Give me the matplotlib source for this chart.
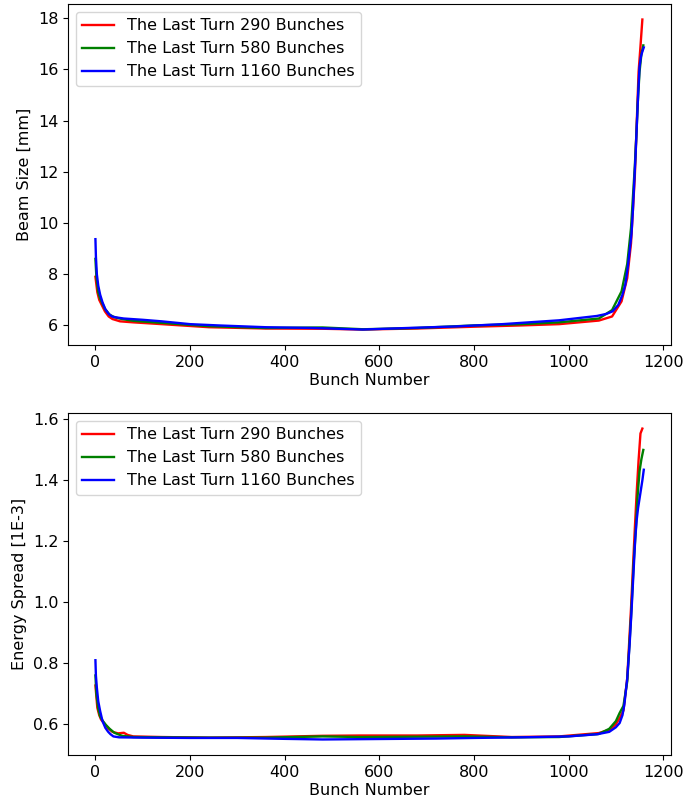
from matplotlib import pyplot as plt

plt.rcParams["font.size"] = 11.5
plt.rcParams["lines.linewidth"] = 1.7

labels = ["The Last Turn 290 Bunches", "The Last Turn 580 Bunches", "The Last Turn 1160 Bunches"]
colors = ["r", "g", "b"]

# beam size [mm] vs bunch number
size_x_290 = [0, 4, 8, 12, 20, 28, 36, 52, 80, 140, 240, 360, 480, 564, 680, 800, 900, 980,
              1064, 1092, 1112, 1124, 1132, 1140, 1148, 1152, 1156]
size_290 = [7.9, 7.3, 7.0, 6.85, 6.55, 6.35, 6.25, 6.16, 6.12, 6.05, 5.93, 5.88, 5.87, 5.84, 5.88,
            5.95, 6.0, 6.05, 6.19, 6.35, 6.94, 7.85, 9.2, 11.8, 15.9, 16.9, 17.95]

size_x_580 = [0, 2, 6, 10, 20, 30, 40, 56, 80, 140, 240, 360, 480, 566, 680, 800, 900, 980,
              1064, 1092, 1112, 1124, 1132, 1140, 1144, 1146, 1150, 1154, 1158]
size_580 = [8.6, 7.9, 7.3, 7.05, 6.65, 6.42, 6.32, 6.25, 6.18, 6.1, 5.97, 5.9, 5.92, 5.85, 5.9,
            6.0, 6.05, 6.12, 6.27, 6.6, 7.33, 8.4, 9.8, 12.2, 13.7, 14.6, 15.9, 16.6, 16.94]

size_x_1160 = [0, 1, 3, 6, 10, 15, 21, 28, 35, 45, 60, 100, 140, 200, 260, 360, 460, 565, 660,
               760, 860, 980, 1060, 1080, 1093, 1105, 1114, 1120, 1125, 1129, 1133, 1136, 1139,
               1142, 1144, 1147, 1150, 1153, 1156, 1159]
size_1160 = [9.37, 8.7, 8.0, 7.55, 7.2, 6.9, 6.63, 6.45, 6.35, 6.31, 6.27, 6.22, 6.16, 6.05, 6.0,
             5.93, 5.9, 5.84, 5.9, 5.96, 6.05, 6.2, 6.37, 6.45, 6.55, 6.8, 7.2, 7.6, 8.25, 8.9,
             9.57, 10.5, 11.65, 12.8, 13.7, 15.0, 16.1, 16.5, 16.7, 16.86]

# energy spread [1E-3] vs bunch number
es_x_290 = [0, 4, 8, 12, 20, 28, 36, 48, 60, 68, 80, 140, 240, 360, 480, 560, 680, 780, 880, 980,
            1064, 1088, 1100, 1108, 1116, 1124, 1132, 1140, 1144, 1148, 1152, 1156]
es_290 = [0.727, 0.654, 0.63, 0.615, 0.6, 0.585, 0.575, 0.57, 0.572, 0.565, 0.56, 0.558, 0.556,
          0.558, 0.562, 0.563, 0.563, 0.565, 0.558, 0.56, 0.571, 0.583, 0.6, 0.62, 0.645, 0.75,
          0.98, 1.24, 1.36, 1.466, 1.554, 1.57]

es_x_580 = [0, 2, 6, 10, 16, 22, 30, 40, 56, 80, 140, 240, 360, 480, 560, 680, 780, 880, 980,
            1064, 1086, 1100, 1108, 1116, 1124, 1132, 1138, 1142, 1146, 1150, 1154, 1158]
es_580 = [0.76, 0.7, 0.65, 0.625, 0.61, 0.598, 0.585, 0.572, 0.562, 0.558, 0.557, 0.556, 0.556,
          0.56, 0.558, 0.559, 0.56, 0.557, 0.558, 0.568, 0.585, 0.61, 0.637, 0.66, 0.74, 0.95,
          1.14, 1.235, 1.35, 1.43, 1.47, 1.5]

es_x_1160 = [0, 1, 3, 6, 10, 15, 21, 27, 32, 38, 50, 100, 200, 300, 400, 480, 560, 640, 720, 800,
             900, 1000, 1060, 1086, 1100, 1108, 1114, 1118, 1124, 1129, 1133, 1136, 1139, 1141,
             1144, 1147, 1150, 1153, 1156, 1159]
es_1160 = [0.81, 0.76, 0.72, 0.675, 0.643, 0.61, 0.588, 0.575, 0.567, 0.56, 0.557, 0.556, 0.555,
           0.555, 0.552, 0.55, 0.551, 0.552, 0.553, 0.555, 0.557, 0.56, 0.567, 0.575, 0.59, 0.604,
           0.63, 0.665, 0.75, 0.86, 0.97, 1.06, 1.15, 1.21, 1.27, 1.31, 1.34, 1.37, 1.4, 1.435]

fig = plt.figure(figsize=(6.87, 8.05), dpi=100)
ax1 = fig.add_axes([0.099, 0.5714, 0.878, 0.4236])
ax2 = fig.add_axes([0.099, 0.0621, 0.878, 0.4248])

for x, y, c, lab in zip([size_x_290, size_x_580, size_x_1160], [size_290, size_580, size_1160], colors, labels):
    ax1.plot(x, y, color=c, label=lab)
ax1.set_xlabel("Bunch Number", labelpad=2)
ax1.set_ylabel("Beam Size [mm]")
ax1.legend(loc="upper left")

for x, y, c, lab in zip([es_x_290, es_x_580, es_x_1160], [es_290, es_580, es_1160], colors, labels):
    ax2.plot(x, y, color=c, label=lab)
ax2.set_xlabel("Bunch Number", labelpad=2)
ax2.set_ylabel("Energy Spread [1E-3]")
ax2.legend(loc="upper left")

fig.savefig("out.png", dpi=100)
